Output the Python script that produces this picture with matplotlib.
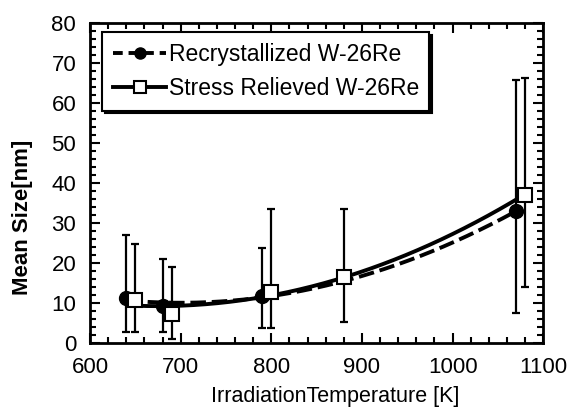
import numpy as np
import matplotlib
matplotlib.use("Agg")
import matplotlib.pyplot as plt
from matplotlib.ticker import MultipleLocator

plt.rcParams['font.family'] = ['Liberation Sans', 'DejaVu Sans']

# Recrystallized W-26Re
rx_T = [640, 680, 790, 1070]
rx_size = [11.3, 9.3, 11.8, 33.0]
rx_lo = [2.8, 2.8, 3.7, 7.5]
rx_hi = [27.0, 21.0, 23.8, 65.8]

# Stress Relieved W-26Re
sr_T = [650, 690, 800, 880, 1080]
sr_size = [10.8, 7.2, 12.7, 16.5, 37.2]
sr_lo = [2.8, 1.0, 3.7, 5.3, 14.0]
sr_hi = [24.8, 19.0, 33.5, 33.5, 66.3]

fig = plt.figure(figsize=(5.7, 4.12), dpi=100)
ax = fig.add_axes([0.158, 0.167, 0.795, 0.776])

def fit_curve(x, y, deg):
    c = np.polyfit(x, y, deg)
    xs = np.linspace(min(x), max(x), 200)
    return xs, np.polyval(c, xs)

# error bars
ax.errorbar(rx_T, rx_size,
            yerr=[np.array(rx_size) - np.array(rx_lo), np.array(rx_hi) - np.array(rx_size)],
            fmt='none', ecolor='black', elinewidth=1.6, capsize=3, capthick=1.6, zorder=2)
ax.errorbar(sr_T, sr_size,
            yerr=[np.array(sr_size) - np.array(sr_lo), np.array(sr_hi) - np.array(sr_size)],
            fmt='none', ecolor='black', elinewidth=1.6, capsize=3, capthick=1.6, zorder=2)

# smooth curves
xs, ys = fit_curve(rx_T, rx_size, 2)
ax.plot(xs, ys, color='black', lw=2.8, ls=(0, (4, 1.5)), zorder=3)
xs, ys = fit_curve(sr_T, sr_size, 2)
ax.plot(xs, ys, color='black', lw=2.8, ls='-', zorder=3)

# markers
ax.plot(rx_T, rx_size, ls='none', marker='o', ms=10, color='black', zorder=4)
ax.plot(sr_T, sr_size, ls='none', marker='s', ms=10, mfc='white', mec='black', mew=1.5, zorder=4)

# legend handles
h1, = ax.plot([], [], color='black', lw=2.8, ls=(0, (2.5, 1.5)), marker='o', ms=8)
h2, = ax.plot([], [], color='black', lw=2.8, ls='-', marker='s', ms=8, mfc='white', mew=1.5)
leg = ax.legend([h1, h2], ['Recrystallized W-26Re', 'Stress Relieved W-26Re'],
                loc='upper left', bbox_to_anchor=(0.027, 0.972), borderaxespad=0,
                fontsize=16.5, handlelength=2.35, handletextpad=0.1, labelspacing=0.5,
                borderpad=0.45, fancybox=False, framealpha=1, edgecolor='black',
                shadow={'color': 'black', 'alpha': 1, 'ox': 2, 'oy': -2})
leg.get_frame().set_linewidth(1.5)

ax.set_xlim(600, 1100)
ax.set_ylim(0, 80)
ax.xaxis.set_major_locator(MultipleLocator(100))
ax.xaxis.set_minor_locator(MultipleLocator(20))
ax.yaxis.set_major_locator(MultipleLocator(10))
ax.yaxis.set_minor_locator(MultipleLocator(2))
ax.tick_params(which='both', direction='in', top=True, right=True, width=1.5, labelsize=16)
ax.tick_params(which='major', length=7)
ax.tick_params(axis='x', which='major', pad=10)
ax.tick_params(axis='y', which='major', pad=10)
ax.tick_params(which='minor', length=4)
for s in ax.spines.values():
    s.set_linewidth(2)

ax.set_xlabel('IrradiationTemperature [K]', fontsize=15.5)
ax.set_ylabel('Mean Size[nm]', fontsize=16, fontweight='bold')
ax.xaxis.set_label_coords(0.54, -0.135)
ax.yaxis.set_label_coords(-0.127, 0.394)

fig.savefig('out.png', dpi=100)
